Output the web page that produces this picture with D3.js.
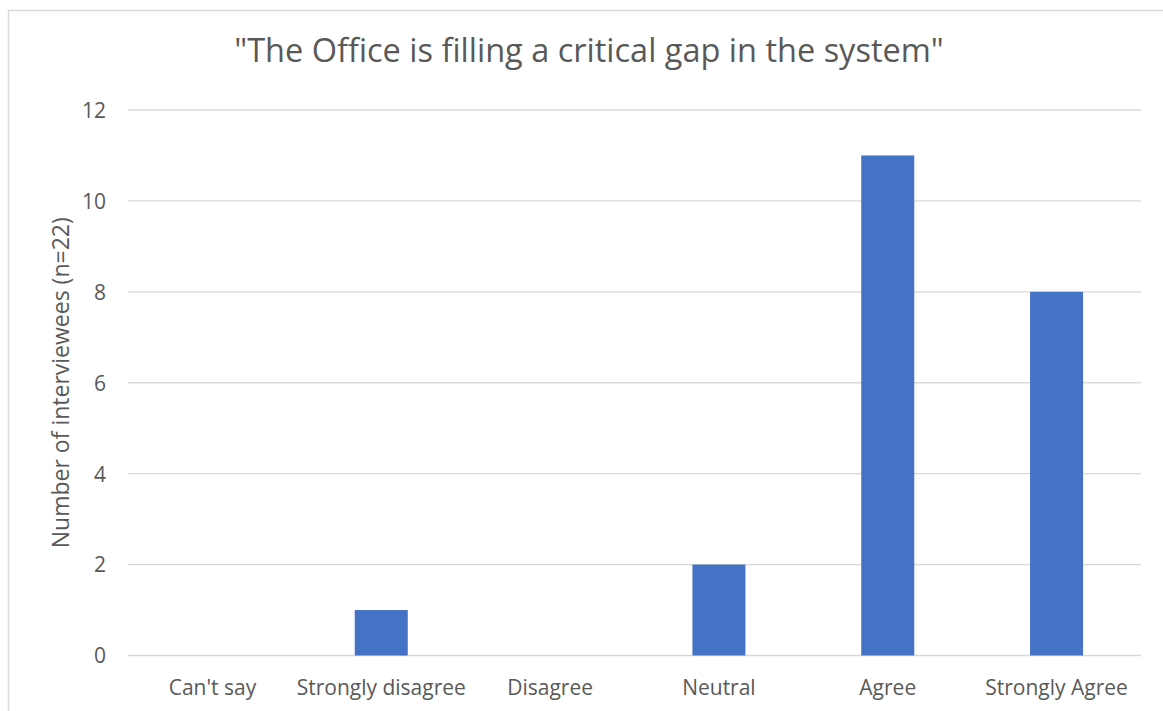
<!DOCTYPE html>
<html>
<head>
<meta charset="utf-8">
<script src="https://cdn.jsdelivr.net/npm/d3@7"></script>
<style>
  body { margin: 0; background: #fff; }
  svg text { font-family: "Open Sans", sans-serif; fill: #595959; }
</style>
</head>
<body>
<div id="chart"></div>
<script>
const categories = ["Can't say", "Strongly disagree", "Disagree", "Neutral", "Agree", "Strongly Agree"];
const counts = [0, 1, 0, 2, 11, 8];
const yTicks = [0, 2, 4, 6, 8, 10, 12];
const titleText = '"The Office is filling a critical gap in the system"';
const yTitle = "Number of interviewees (n=22)";

const width = 1163, height = 711;
const margin = {top: 110, right: 22, bottom: 55.5, left: 128};

const svg = d3.select("#chart")
  .append("svg")
  .attr("width", width)
  .attr("height", height);

// chart frame
svg.append("rect")
  .attr("x", 8.5).attr("y", 10.5)
  .attr("width", width + 10).attr("height", height + 10)
  .attr("fill", "none")
  .attr("stroke", "#d9d9d9")
  .attr("stroke-width", 1.5);

const x = d3.scaleBand()
  .domain(categories)
  .range([margin.left, width - margin.right])
  .paddingInner(0.686)
  .paddingOuter(0.343);

const y = d3.scaleLinear()
  .domain([0, 12])
  .range([height - margin.bottom, margin.top]);

// gridlines
svg.append("g")
  .selectAll("line")
  .data(yTicks)
  .enter()
  .append("line")
  .attr("x1", margin.left)
  .attr("x2", width - margin.right)
  .attr("y1", d => y(d))
  .attr("y2", d => y(d))
  .attr("stroke", "#d9d9d9")
  .attr("stroke-width", 1.3);

// y axis labels
const yAxis = svg.append("g")
  .attr("transform", "translate(" + (margin.left - 22) + ",0)")
  .call(d3.axisLeft(y).tickValues(yTicks).tickSize(0).tickPadding(0));
yAxis.select(".domain").remove();
yAxis.selectAll("text")
  .attr("x", 0)
  .attr("dy", "0.35em")
  .style("font-size", "21px")
  .style("fill", "#595959");

// x axis labels
const xAxis = svg.append("g")
  .attr("transform", "translate(0," + y(0) + ")")
  .call(d3.axisBottom(x).tickSize(0).tickPadding(0));
xAxis.select(".domain").remove();
xAxis.selectAll("text")
  .attr("y", 39)
  .attr("dy", 0)
  .style("font-size", "21px")
  .style("fill", "#595959");

// bars
svg.append("g")
  .selectAll("rect")
  .data(counts)
  .enter()
  .append("rect")
  .attr("x", (d, i) => x(categories[i]))
  .attr("y", d => y(d))
  .attr("width", x.bandwidth())
  .attr("height", d => y(0) - y(d))
  .attr("fill", "#4472c4");

// title
svg.append("text")
  .attr("x", 589)
  .attr("y", 62)
  .attr("text-anchor", "middle")
  .style("font-size", "32.5px")
  .text(titleText);

// y axis title
svg.append("text")
  .attr("transform", "translate(69," + ((y(0) + y(12)) / 2 + 0) + ") rotate(-90)")
  .attr("text-anchor", "middle")
  .style("font-size", "23px")
  .text(yTitle);
</script>
</body>
</html>
